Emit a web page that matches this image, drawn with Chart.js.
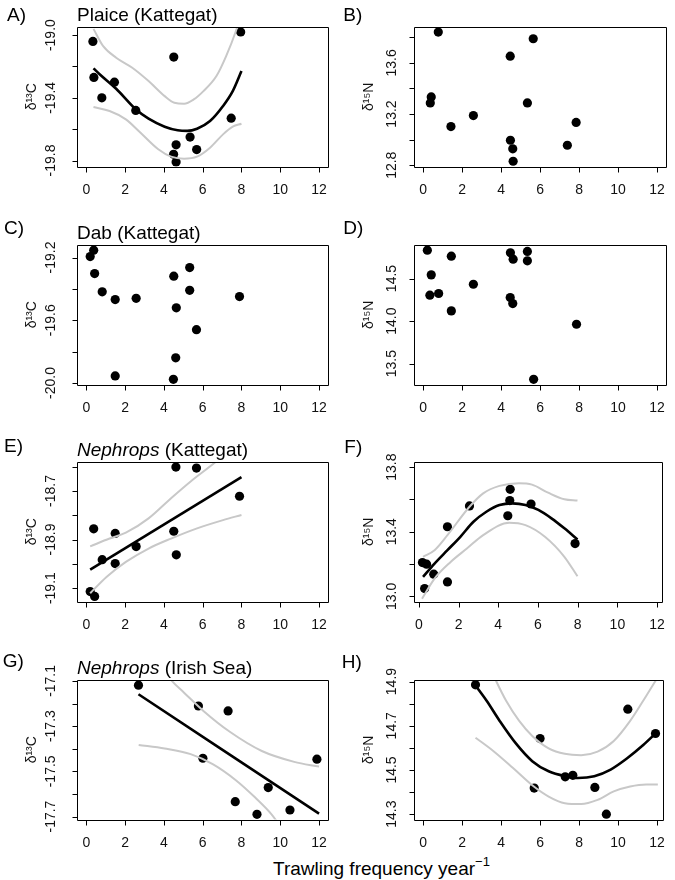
<!DOCTYPE html>
<html>
<head>
<meta charset="utf-8">
<script src="https://cdn.jsdelivr.net/npm/chart.js@4.4.0/dist/chart.umd.min.js"></script>
<style>
  body { margin: 0; background: #fff; }
  #page { position: relative; width: 675px; height: 880px; overflow: hidden; }
  #page canvas { position: absolute; }
  #xtitle { position: absolute; left: 273px; top: 859px; font: 19px 'Liberation Sans', Arial, sans-serif; line-height: 19px; white-space: nowrap; color: #000; }
  #xtitle span { position: relative; top: -9px; font-size: 13px; }
</style>
</head>
<body>
<div id="page">
  <div id="xtitle">Trawling frequency year<span>&minus;1</span></div>
</div>
<script>
// A) Plaice, d13C
const aFreq = [0.34, 0.39, 0.80, 1.45, 2.55, 4.51, 4.50, 4.63, 4.63, 5.35, 5.69, 7.47, 7.96];
const aD13C = [-19.04, -19.27, -19.40, -19.30, -19.48, -19.14, -19.76, -19.81, -19.70, -19.65, -19.73, -19.53, -18.98];
const aFitX = [0.37, 0.70, 1.54, 2.55, 3.21, 4.04, 4.71, 5.21, 5.71, 6.38, 7.05, 7.55, 8.0];
const aFitY = [-19.212, -19.251, -19.342, -19.473, -19.533, -19.584, -19.607, -19.611, -19.597, -19.548, -19.452, -19.357, -19.229];
const aUpX = [0.37, 0.87, 1.54, 2.37, 3.21, 4.04, 4.54, 5.04, 5.54, 6.04, 6.71, 7.21, 7.71, 8.0];
const aUpY = [-18.96, -19.07, -19.144, -19.208, -19.293, -19.389, -19.431, -19.437, -19.41, -19.357, -19.261, -19.134, -18.975, -18.86];
const aLoX = [0.37, 1.20, 2.04, 2.70, 3.71, 4.37, 5.04, 5.71, 6.38, 7.05, 7.55, 8.0];
const aLoY = [-19.459, -19.484, -19.537, -19.611, -19.728, -19.775, -19.788, -19.775, -19.718, -19.633, -19.584, -19.565];

// B) Plaice, d15N
const bFreq = [0.78, 0.37, 0.42, 1.43, 2.58, 4.47, 4.48, 4.60, 4.62, 5.65, 5.35, 7.40, 7.85];
const bD15N = [13.84, 13.287, 13.334, 13.102, 13.188, 13.652, 12.995, 12.928, 12.831, 13.788, 13.287, 12.956, 13.134];

// C) Dab, d13C
const cFreq = [0.38, 0.20, 0.43, 0.82, 1.49, 2.57, 4.51, 5.33, 5.33, 4.64, 5.68, 4.61, 1.49, 4.49, 7.90];
const cD13C = [-19.153, -19.194, -19.302, -19.419, -19.468, -19.460, -19.319, -19.264, -19.409, -19.521, -19.660, -19.840, -19.955, -19.977, -19.449];

// D) Dab, d15N
const dFreq = [0.22, 0.42, 0.35, 0.80, 1.45, 1.45, 2.58, 4.48, 4.62, 4.47, 4.60, 5.35, 5.35, 5.67, 7.87];
const dD15N = [14.833, 14.543, 14.304, 14.324, 14.763, 14.120, 14.433, 14.802, 14.727, 14.276, 14.206, 14.818, 14.708, 13.316, 13.963];

// E) Nephrops Kattegat, d13C
const eFreq = [4.62, 5.68, 7.90, 0.38, 1.49, 4.51, 2.57, 4.64, 0.82, 1.49, 0.20, 0.43];
const eD13C = [-18.602, -18.606, -18.722, -18.856, -18.875, -18.866, -18.929, -18.963, -18.983, -18.999, -19.114, -19.134];
const eFitX = [0.20, 8.0];
const eFitY = [-19.024, -18.643];
const eUpX = [0.20, 1.20, 2.04, 3.21, 4.37, 5.38, 6.63, 7.38, 8.0];
const eUpY = [-18.928, -18.896, -18.872, -18.813, -18.730, -18.661, -18.583, -18.530, -18.482];
const eLoX = [0.20, 1.04, 2.04, 3.21, 4.37, 5.71, 7.05, 8.0];
const eLoY = [-19.121, -19.054, -18.992, -18.937, -18.896, -18.854, -18.820, -18.799];

// F) Nephrops Kattegat, d15N
const fFreq = [0.18, 0.39, 0.29, 0.75, 1.44, 1.44, 2.55, 4.60, 4.58, 4.48, 5.65, 7.87];
const fD15N = [13.209, 13.199, 13.048, 13.137, 13.431, 13.089, 13.560, 13.663, 13.593, 13.499, 13.572, 13.327];
const fFitX = [0.21, 0.79, 1.44, 2.09, 2.75, 3.40, 4.06, 4.71, 5.37, 6.02, 6.68, 7.33, 7.99];
const fFitY = [13.120, 13.203, 13.286, 13.369, 13.462, 13.524, 13.566, 13.576, 13.566, 13.535, 13.483, 13.421, 13.352];
const fUpX = [0.21, 0.79, 1.44, 2.55, 3.24, 4.06, 5.04, 5.70, 6.51, 7.33, 7.99];
const fUpY = [13.245, 13.286, 13.379, 13.555, 13.638, 13.684, 13.701, 13.692, 13.642, 13.601, 13.593];
const fLoX = [0.16, 0.79, 1.60, 2.42, 3.24, 4.55, 5.37, 6.35, 7.33, 7.99];
const fLoY = [12.985, 13.110, 13.213, 13.296, 13.379, 13.456, 13.441, 13.369, 13.245, 13.124];

// G) Nephrops Irish Sea, d13C
const gFreq = [2.69, 5.78, 7.31, 6.01, 11.89, 9.38, 7.68, 8.80, 10.50];
const gD13C = [-17.119, -17.211, -17.233, -17.442, -17.446, -17.572, -17.634, -17.690, -17.671];
const gFitX = [2.69, 12.0];
const gFitY = [-17.159, -17.687];
const gUpX = [4.04, 4.41, 5.04, 6.04, 7.38, 9.05, 10.72, 12.0];
const gUpY = [-17.056, -17.100, -17.152, -17.233, -17.324, -17.410, -17.458, -17.479];
const gLoX = [2.70, 4.04, 5.38, 6.54, 7.71, 8.71, 9.55, 10.05];
const gLoY = [-17.383, -17.399, -17.424, -17.469, -17.539, -17.616, -17.690, -17.749];

// H) Nephrops Irish Sea, d15N
const hFreq = [2.69, 6.00, 5.70, 7.29, 7.68, 8.81, 9.40, 10.50, 11.92];
const hD15N = [14.885, 14.642, 14.418, 14.469, 14.476, 14.421, 14.300, 14.775, 14.665];
const hFitX = [2.69, 3.26, 3.93, 4.77, 5.60, 6.44, 7.27, 7.94, 8.78, 9.62, 10.45, 11.29, 11.92];
const hFitY = [14.882, 14.813, 14.722, 14.619, 14.540, 14.494, 14.472, 14.464, 14.472, 14.502, 14.552, 14.613, 14.665];
const hUpX = [3.43, 3.76, 4.26, 4.93, 5.60, 6.44, 7.27, 8.11, 8.95, 9.78, 10.62, 11.45, 12.04];
const hUpY = [14.965, 14.900, 14.813, 14.722, 14.654, 14.598, 14.573, 14.567, 14.583, 14.631, 14.722, 14.836, 14.920];
const hLoX = [2.69, 3.60, 4.60, 5.60, 6.44, 7.27, 8.11, 8.95, 9.78, 10.62, 11.45, 12.04];
const hLoY = [14.646, 14.586, 14.510, 14.431, 14.380, 14.350, 14.346, 14.365, 14.403, 14.425, 14.434, 14.434];

// tick labels R kept (the other ticks are drawn unlabelled)
const xTickLabels = ['0', '2', '4', '6', '8', '10', '12'];
const aYLabels = ['-19.0', '-19.4', '-19.8'];
const bYLabels = ['12.8', '13.2', '13.6'];
const cYLabels = ['-19.2', '-19.6', '-20.0'];
const dYLabels = ['13.5', '14.0', '14.5'];
const eYLabels = ['-18.7', '-18.9', '-19.1'];
const fYLabels = ['13.0', '13.4', '13.8'];
const gYLabels = ['-17.1', '-17.3', '-17.5', '-17.7'];
const hYLabels = ['14.3', '14.5', '14.7', '14.9'];

const FONT = "'Liberation Sans', Arial, sans-serif";
const TICK_SIZE = 14;
const TICK_LEN = 5;
const BOX_H = 139.5;
const CV_H = 218;
const GRAY = '#c8c8c8';

Chart.defaults.font.family = FONT;
Chart.defaults.color = '#000';
Chart.defaults.animation = false;

const page = document.getElementById('page');
const measure = document.createElement('canvas').getContext('2d');
measure.font = TICK_SIZE + 'px ' + FONT;

const pairs = (xs, ys) => xs.map((x, i) => ({ x: x, y: ys[i] }));

// box round the plot region, tick marks, panel letter and panel title
const framePlugin = {
  id: 'frame',
  afterDraw(chart, args, o) {
    const { ctx, chartArea: a, scales } = chart;
    const L = Math.round(a.left) + 0.5, T = Math.round(a.top) + 0.5;
    const R = Math.round(a.right) + 0.5, B = Math.round(a.bottom) + 0.5;
    ctx.save();
    ctx.strokeStyle = '#000';
    ctx.lineWidth = 1;
    ctx.beginPath();
    ctx.rect(L, T, R - L, B - T);
    scales.x.ticks.forEach(t => {
      const p = Math.round(scales.x.getPixelForValue(t.value)) + 0.5;
      ctx.moveTo(p, B); ctx.lineTo(p, B + TICK_LEN);
    });
    scales.y.ticks.forEach(t => {
      const p = Math.round(scales.y.getPixelForValue(t.value)) + 0.5;
      ctx.moveTo(L, p); ctx.lineTo(L - TICK_LEN, p);
    });
    ctx.stroke();
    ctx.fillStyle = '#000';
    ctx.textBaseline = 'alphabetic';
    ctx.textAlign = 'left';
    ctx.font = '19px ' + FONT;
    ctx.fillText(o.tag, o.tagX, o.tagY);
    let x = a.left;
    const y = a.top - 6.5;
    if (o.italic) {
      ctx.font = 'italic 19px ' + FONT;
      ctx.fillText(o.italic, x, y);
      x += ctx.measureText(o.italic).width;
      ctx.font = '19px ' + FONT;
    }
    if (o.plain) ctx.fillText(o.plain, x, y);
    ctx.restore();
  }
};

// tick marks are drawn by the plugin; the grid only reserves their length
function axisGrid() {
  return { drawOnChartArea: false, drawTicks: true, tickLength: TICK_LEN, color: 'rgba(0,0,0,0)' };
}

function panel(g, s) {
  const cv = document.createElement('canvas');
  cv.width = g.w;
  cv.height = CV_H;
  cv.style.left = g.left + 'px';
  cv.style.top = g.top + 'px';
  page.appendChild(cv);

  const yAxisW = g.boxL - g.left;
  const xAxisH = CV_H - 27 - BOX_H;
  const widest = Math.max(...s.yLabels.map(t => measure.measureText(t).width));

  const datasets = [];
  if (s.fit) datasets.push({ data: s.fit, showLine: true, borderColor: '#000', borderWidth: 2.6,
    pointRadius: 0, cubicInterpolationMode: 'monotone' });
  if (s.up) datasets.push({ data: s.up, showLine: true, borderColor: GRAY, borderWidth: 2,
    pointRadius: 0, cubicInterpolationMode: 'monotone' });
  if (s.lo) datasets.push({ data: s.lo, showLine: true, borderColor: GRAY, borderWidth: 2,
    pointRadius: 0, cubicInterpolationMode: 'monotone' });
  datasets.push({ data: s.pts, pointRadius: 4.6, backgroundColor: '#000', borderWidth: 0 });

  new Chart(cv, {
    type: 'scatter',
    data: { datasets: datasets },
    plugins: [framePlugin],
    options: {
      responsive: false,
      events: [],
      layout: { padding: { top: 27, left: 0, bottom: 0, right: g.w - (g.boxR - g.left) } },
      plugins: {
        legend: { display: false },
        tooltip: { enabled: false },
        frame: { tag: s.tag, tagX: s.tagX, tagY: s.tagY, italic: s.italic, plain: s.plain }
      },
      scales: {
        x: {
          type: 'linear', min: g.xMin, max: g.xMax,
          afterBuildTicks: sc => { sc.min = g.xMin; sc.max = g.xMax; },
          afterFit: sc => { sc.height = xAxisH; },
          grid: axisGrid(), border: { display: false },
          ticks: { stepSize: 2, includeBounds: false, autoSkip: false, maxRotation: 0,
            padding: 10, color: '#111', font: { size: TICK_SIZE },
            callback: v => { const t = String(Math.round(v)); return xTickLabels.includes(t) ? t : ''; } }
        },
        y: {
          type: 'linear', min: s.yMin, max: s.yMax,
          afterBuildTicks: sc => { sc.min = s.yMin; sc.max = s.yMax; },
          afterFit: sc => { sc.width = yAxisW; },
          grid: axisGrid(), border: { display: false },
          title: { display: true, text: s.yTitle, color: '#111', font: { size: 14 },
            padding: { top: yAxisW - 44.5 - 8.4, bottom: 0 } },
          ticks: { stepSize: s.yStep, includeBounds: false, autoSkip: false,
            minRotation: 90, maxRotation: 90, crossAlign: 'center',
            padding: g.labD - TICK_LEN - widest / 2, color: '#111', font: { size: TICK_SIZE },
            callback: v => { const t = v.toFixed(1); return s.yLabels.includes(t) ? t : ''; } }
        }
      }
    }
  });
}

const LEFT = { left: 0, w: 337, boxL: 77, boxR: 334, xMin: -0.48, xMax: 12.48, labD: 25.5 };
const RIGHT = { left: 337, w: 338, boxL: 413.5, boxR: 672, xMin: -0.49, xMax: 12.435, labD: 21.5 };
const RIGHT2 = { left: 337, w: 338, boxL: 413.5, boxR: 668.5, labD: 21.5 };

panel(Object.assign({}, LEFT, { top: 0 }), {
  pts: pairs(aFreq, aD13C), fit: pairs(aFitX, aFitY), up: pairs(aUpX, aUpY), lo: pairs(aLoX, aLoY),
  yMin: -19.838, yMax: -18.948, yStep: 0.2, yLabels: aYLabels, yTitle: 'δ¹³C',
  tag: 'A)', tagX: 7, tagY: 20.7, plain: 'Plaice (Kattegat)'
});
panel(Object.assign({}, RIGHT, { top: 0 }), {
  pts: pairs(bFreq, bD15N),
  yMin: 12.79, yMax: 13.88, yStep: 0.2, yLabels: bYLabels, yTitle: 'δ¹⁵N',
  tag: 'B)', tagX: 6.3, tagY: 20.7
});
panel(Object.assign({}, LEFT, { top: 217.5 }), {
  pts: pairs(cFreq, cD13C),
  yMin: -20.010, yMax: -19.120, yStep: 0.2, yLabels: cYLabels, yTitle: 'δ¹³C',
  tag: 'C)', tagX: 4, tagY: 15.8, plain: 'Dab (Kattegat)'
});
panel(Object.assign({}, RIGHT, { top: 217.5 }), {
  pts: pairs(dFreq, dD15N),
  yMin: 13.255, yMax: 14.894, yStep: 0.5, yLabels: dYLabels, yTitle: 'δ¹⁵N',
  tag: 'D)', tagX: 6.3, tagY: 15.8
});
panel(Object.assign({}, LEFT, { top: 435 }), {
  pts: pairs(eFreq, eD13C), fit: pairs(eFitX, eFitY), up: pairs(eUpX, eUpY), lo: pairs(eLoX, eLoY),
  yMin: -19.155, yMax: -18.581, yStep: 0.1, yLabels: eYLabels, yTitle: 'δ¹³C',
  tag: 'E)', tagX: 4, tagY: 16.7, italic: 'Nephrops', plain: ' (Kattegat)'
});
panel(Object.assign({}, RIGHT2, { top: 435, xMin: -0.27, xMax: 12.25 }), {
  pts: pairs(fFreq, fD15N), fit: pairs(fFitX, fFitY), up: pairs(fUpX, fUpY), lo: pairs(fLoX, fLoY),
  yMin: 12.968, yMax: 13.832, yStep: 0.2, yLabels: fYLabels, yTitle: 'δ¹⁵N',
  tag: 'F)', tagX: 7.3, tagY: 17.7
});
panel(Object.assign({}, LEFT, { top: 653 }), {
  pts: pairs(gFreq, gD13C), fit: pairs(gFitX, gFitY), up: pairs(gUpX, gUpY), lo: pairs(gLoX, gLoY),
  yMin: -17.713, yMax: -17.096, yStep: 0.1, yLabels: gYLabels, yTitle: 'δ¹³C',
  tag: 'G)', tagX: 2.7, tagY: 13.7, italic: 'Nephrops', plain: ' (Irish Sea)'
});
panel(Object.assign({}, RIGHT2, { top: 653, xMin: -0.49, xMax: 12.29 }), {
  pts: pairs(hFreq, hD15N), fit: pairs(hFitX, hFitY), up: pairs(hUpX, hUpY), lo: pairs(hLoX, hLoY),
  yMin: 14.276, yMax: 14.907, yStep: 0.1, yLabels: hYLabels, yTitle: 'δ¹⁵N',
  tag: 'H)', tagX: 4.7, tagY: 15.3
});
</script>
</body>
</html>
